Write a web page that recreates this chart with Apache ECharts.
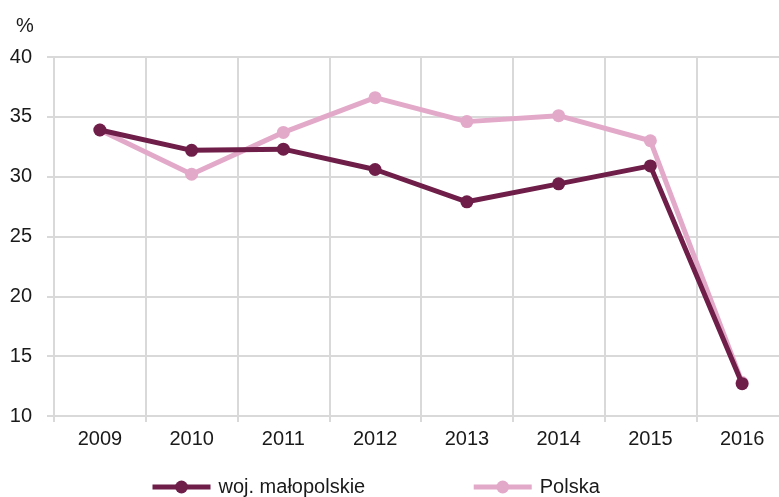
<!DOCTYPE html>
<html>
<head>
<meta charset="utf-8">
<script src="https://cdn.jsdelivr.net/npm/echarts@6/dist/echarts.min.js"></script>
<style>
  html, body { margin: 0; padding: 0; background: #fff; }
  #chart { width: 779px; height: 497px; }
</style>
</head>
<body>
<div id="chart"></div>
<script>
const years = ['2009', '2010', '2011', '2012', '2013', '2014', '2015', '2016']
const malopolskie = [33.9, 32.2, 32.3, 30.6, 27.9, 29.4, 30.9, 12.7]
const polska = [33.9, 30.2, 33.7, 36.6, 34.6, 35.1, 33.0, 12.8]

const gridColor = '#d9d9d9'
const font = 'Liberation Sans, Arial, sans-serif'

const chart = echarts.init(document.getElementById('chart'))

chart.setOption({
  animation: false,
  title: {
    text: '%',
    left: 11,
    top: 11,
    textStyle: { fontFamily: font, fontSize: 20, fontWeight: 'normal', color: '#1a1a1a' }
  },
  grid: { left: 54, top: 57, width: 734, height: 359, outerBoundsMode: 'none' },
  legend: {
    left: 145,
    top: 472,
    itemGap: 106,
    itemWidth: 58,
    itemHeight: 16,
    lineStyle: { width: 5 },
    textStyle: { fontFamily: font, fontSize: 20, color: '#1a1a1a', padding: [0, 0, 0, 3] },
    data: ['woj. małopolskie', 'Polska']
  },
  xAxis: {
    type: 'category',
    data: years,
    boundaryGap: true,
    axisLine: { lineStyle: { color: gridColor, width: 2 } },
    axisTick: { show: true, length: 6, lineStyle: { color: gridColor, width: 2 } },
    axisLabel: { fontFamily: font, fontSize: 20, color: '#1a1a1a', margin: 13 },
    splitLine: { show: true, lineStyle: { color: gridColor, width: 2 } }
  },
  yAxis: {
    type: 'value',
    min: 10,
    max: 40,
    interval: 5,
    axisLine: { show: false },
    axisTick: { show: true, length: 7, lineStyle: { color: gridColor, width: 2 } },
    axisLabel: { fontFamily: font, fontSize: 20, color: '#1a1a1a', margin: 22 },
    splitLine: { show: true, lineStyle: { color: gridColor, width: 2 } }
  },
  series: [
    {
      name: 'Polska',
      type: 'line',
      data: polska,
      color: '#e3a9c9',
      symbol: 'circle',
      symbolSize: 13,
      lineStyle: { width: 5 },
      z: 2
    },
    {
      name: 'woj. małopolskie',
      type: 'line',
      data: malopolskie,
      color: '#6e1e48',
      symbol: 'circle',
      symbolSize: 13,
      lineStyle: { width: 5 },
      z: 3
    }
  ]
})
</script>
</body>
</html>
